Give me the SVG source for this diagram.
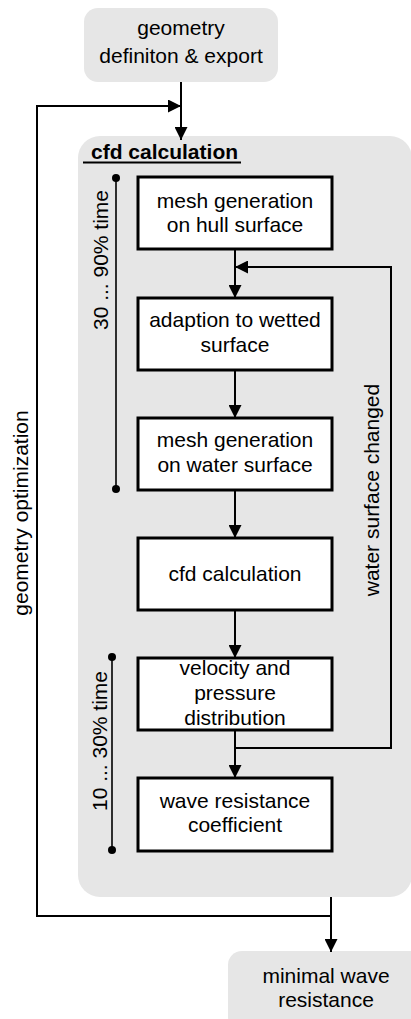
<svg xmlns="http://www.w3.org/2000/svg" width="411" height="1019" viewBox="0 0 411 1019">
<defs>
<style>
text{font-family:"Liberation Sans",Arial,sans-serif;font-size:21px;fill:#000;}
.c{text-anchor:middle;}
.term{fill:#e6e6e6;stroke:none;}
.box{fill:#fff;stroke:#000;stroke-width:3;}
.ln{fill:none;stroke:#000;stroke-width:2;}
.thin{fill:none;stroke:#000;stroke-width:1.6;}
</style>
<marker id="ah" viewBox="0 0 13 13" refX="13" refY="6.5" markerWidth="13" markerHeight="13" markerUnits="userSpaceOnUse" orient="auto">
<path d="M0,0 L13,6.5 L0,13 Z" fill="#000"/>
</marker>
</defs>

<g id="container">
<rect class="term" x="78" y="136" width="334" height="761" rx="22"/>
<text x="91" y="159" style="font-weight:bold">cfd calculation</text>
<line x1="83" y1="162.5" x2="241" y2="162.5" stroke="#000" stroke-width="2"/>
</g>

<g id="n-geometry">
<rect class="term" x="84" y="8" width="194" height="74" rx="14"/>
<text class="c" x="181" y="35">geometry</text>
<text class="c" x="181" y="63">definiton &amp; export</text>
</g>

<g id="n-minimal">
<rect class="term" x="228" y="951" width="200" height="80" rx="14"/>
<text class="c" x="326" y="983">minimal wave</text>
<text class="c" x="326" y="1007">resistance</text>
</g>

<g id="n-mesh-hull">
<rect class="box" x="138" y="177" width="194" height="72"/>
<text class="c" x="235" y="208">mesh generation</text>
<text class="c" x="235" y="232">on hull surface</text>
</g>

<g id="n-adaption">
<rect class="box" x="138" y="298" width="194" height="72"/>
<text class="c" x="235" y="327">adaption to wetted</text>
<text class="c" x="235" y="352">surface</text>
</g>

<g id="n-mesh-water">
<rect class="box" x="138" y="418" width="194" height="72"/>
<text class="c" x="235" y="447">mesh generation</text>
<text class="c" x="235" y="472">on water surface</text>
</g>

<g id="n-cfd">
<rect class="box" x="138" y="538" width="194" height="72"/>
<text class="c" x="235" y="581">cfd calculation</text>
</g>

<g id="n-velocity">
<rect class="box" x="138" y="658" width="194" height="72"/>
<text class="c" x="235" y="675">velocity and</text>
<text class="c" x="235" y="700">pressure</text>
<text class="c" x="235" y="725">distribution</text>
</g>

<g id="n-wave">
<rect class="box" x="138" y="778" width="194" height="73"/>
<text class="c" x="235" y="808">wave resistance</text>
<text class="c" x="235" y="832">coefficient</text>
</g>

<g id="time-brackets">
<line class="thin" x1="116" y1="178" x2="116" y2="489"/>
<circle cx="116" cy="178" r="4"/>
<circle cx="116" cy="489" r="4"/>
<text class="c" transform="translate(108,260) rotate(-90)">30 ... 90% time</text>
<line class="thin" x1="112" y1="657" x2="112" y2="850"/>
<circle cx="112" cy="657" r="4"/>
<circle cx="112" cy="850" r="4"/>
<text class="c" transform="translate(107,741) rotate(-90)">10 ... 30% time</text>
</g>

<g id="connectors">
<line class="ln" x1="181" y1="82" x2="181" y2="140" marker-end="url(#ah)"/>
<polyline class="ln" points="331,897 331,916 37,916 37,106 181,106" marker-end="url(#ah)"/>
<line class="ln" x1="331" y1="916" x2="331" y2="952" marker-end="url(#ah)"/>
<line class="ln" x1="235" y1="249" x2="235" y2="298" marker-end="url(#ah)"/>
<line class="ln" x1="235" y1="370" x2="235" y2="418" marker-end="url(#ah)"/>
<line class="ln" x1="235" y1="490" x2="235" y2="538" marker-end="url(#ah)"/>
<line class="ln" x1="235" y1="610" x2="235" y2="658" marker-end="url(#ah)"/>
<line class="ln" x1="235" y1="730" x2="235" y2="778" marker-end="url(#ah)"/>
<polyline class="ln" points="235,748 391,748 391,267 235,267" marker-end="url(#ah)"/>
<text class="c" transform="translate(28,513) rotate(-90)">geometry optimization</text>
<text class="c" transform="translate(379,490) rotate(-90)">water surface changed</text>
</g>
</svg>
